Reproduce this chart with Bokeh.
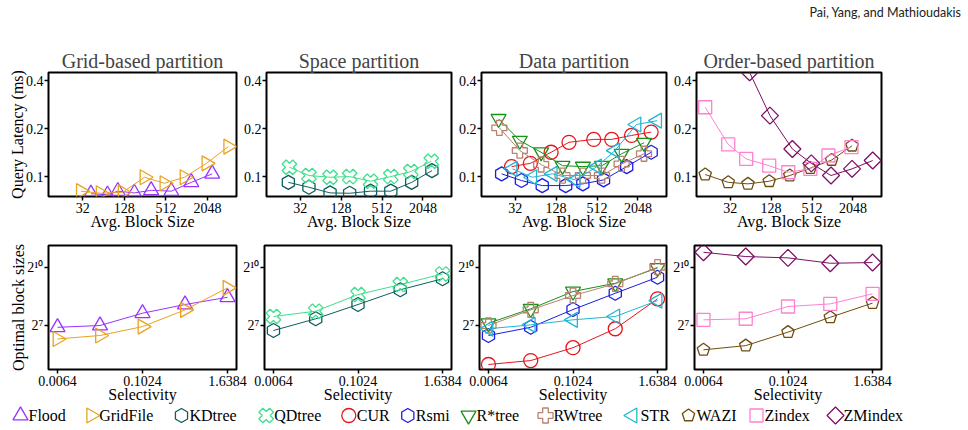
import math
from bokeh.plotting import figure
from bokeh.models import (ColumnDataSource, FixedTicker, NumeralTickFormatter,
                          CustomJSTickFormatter, Range1d, Label)
from bokeh.layouts import row, column
from bokeh.core.properties import value
from bokeh.embed import file_html
from bokeh.resources import INLINE

# ---------------- data ----------------
methods = ["Flood", "GridFile", "KDtree", "QDtree", "CUR", "Rsmi",
           "R*tree", "RWtree", "STR", "WAZI", "Zindex", "ZMindex"]

panel_titles = ["Grid-based partition", "Space partition", "Data partition", "Order-based partition"]
panel_methods = [["Flood", "GridFile"], ["KDtree", "QDtree"],
                 ["CUR", "Rsmi", "R*tree", "RWtree", "STR"], ["WAZI", "Zindex", "ZMindex"]]

# top row: average block size vs query latency (ms)
flood_bs = [42, 73, 103, 179, 313, 614, 1195, 2400]
flood_lat = [0.078, 0.077, 0.081, 0.079, 0.082, 0.081, 0.092, 0.104]
grid_bs = [30, 58, 121, 251, 488, 955, 1980, 4100]
grid_lat = [0.081, 0.0786, 0.0797, 0.099, 0.0908, 0.099, 0.121, 0.154]
kd_bs = [21.4, 43, 88, 171, 347, 690, 1400, 2780]
kd_lat = [0.092, 0.0857, 0.079, 0.0786, 0.081, 0.081, 0.092, 0.109]
qd_bs = [22.2, 43, 88, 171, 347, 690, 1360, 2720]
qd_lat = [0.1144, 0.1015, 0.099, 0.100, 0.0935, 0.100, 0.1075, 0.1247]
cur_bs = [28.3, 53.5, 108, 198, 458, 843, 1650, 3210]
cur_lat = [0.1155, 0.121, 0.142, 0.164, 0.171, 0.171, 0.181, 0.190]
rsmi_bs = [20.2, 39.5, 80, 177, 317, 639, 1400, 3210]
rsmi_lat = [0.104, 0.0944, 0.0878, 0.0878, 0.090, 0.0953, 0.1155, 0.142]
rstar_bs = [18.2, 37.4, 77, 159, 317, 605, 1180, 2520]
rstar_lat = [0.230, 0.168, 0.142, 0.117, 0.1155, 0.117, 0.139, 0.163]
rw_bs = [18.7, 37.4, 77, 159, 317, 605, 1180, 2520]
rw_lat = [0.202, 0.1455, 0.119, 0.1015, 0.1015, 0.1015, 0.120, 0.139]
str_bs = [29.2, 57, 114, 247, 512, 942, 1950, 3930]
str_lat = [0.1118, 0.099, 0.104, 0.0953, 0.1155, 0.1455, 0.212, 0.224]
wazi_bs = [13.7, 29.9, 58.4, 120, 241, 484, 996, 1990]
wazi_lat = [0.103, 0.092, 0.090, 0.0935, 0.1015, 0.113, 0.127, 0.156]
zindex_bs = [13.7, 29.9, 55, 120, 229, 484, 893, 1950]
zindex_lat = [0.272, 0.159, 0.129, 0.117, 0.1064, 0.1118, 0.1355, 0.153]
zm_bs = [30, 61.8, 123, 263, 500, 975, 1990, 4010]
zm_lat = [0.80, 0.45, 0.241, 0.149, 0.121, 0.1015, 0.1118, 0.126]

# bottom row: selectivity vs optimal block size
selectivity = [0.0064, 0.0256, 0.1024, 0.4096, 1.6384]
flood_opt = [120, 128, 199, 272, 352]
grid_opt = [79, 89.5, 123, 224, 494]
kd_opt = [107, 163, 272, 461, 685]
qd_opt = [177, 214, 388, 556, 816]
cur_opt = [31.6, 36.4, 57.7, 114, 333]
rsmi_opt = [89.5, 120, 227, 407, 724]
rstar_opt = [139, 233, 433, 584, 1010]
rw_opt = [128, 224, 375, 572, 1038]
str_opt = [114, 131, 157, 177, 313]
wazi_opt = [53.5, 62.2, 101, 172, 286]
zindex_opt = [157, 163, 253, 278, 399]
zm_opt = [1770, 1520, 1450, 1195, 1225]

top_ticks_x = [32, 128, 512, 2048]
top_ticks_y = [0.1, 0.2, 0.4]
bottom_ticks_x = [0.0064, 0.1024, 1.6384]
bottom_ticks_y = [128, 1024]

TOP = {"Flood": (flood_bs, flood_lat), "GridFile": (grid_bs, grid_lat),
       "KDtree": (kd_bs, kd_lat), "QDtree": (qd_bs, qd_lat),
       "CUR": (cur_bs, cur_lat), "Rsmi": (rsmi_bs, rsmi_lat),
       "R*tree": (rstar_bs, rstar_lat), "RWtree": (rw_bs, rw_lat),
       "STR": (str_bs, str_lat), "WAZI": (wazi_bs, wazi_lat),
       "Zindex": (zindex_bs, zindex_lat), "ZMindex": (zm_bs, zm_lat)}
BOTTOM = {"Flood": flood_opt, "GridFile": grid_opt, "KDtree": kd_opt, "QDtree": qd_opt,
          "CUR": cur_opt, "Rsmi": rsmi_opt, "R*tree": rstar_opt, "RWtree": rw_opt,
          "STR": str_opt, "WAZI": wazi_opt, "Zindex": zindex_opt, "ZMindex": zm_opt}

# ---------------- styles ----------------
SERIF = "Liberation Serif"
STYLE = {
    "Flood": dict(color="#9933ff", marker="triangle", angle=0.0, size=15),
    "GridFile": dict(color="#eaa221", marker="triangle", angle=-math.pi / 2, size=15),
    "KDtree": dict(color="#0d5e5e", marker="hex", angle=math.pi / 2, size=14),
    "QDtree": dict(color="#3de08c", marker="plus", angle=math.pi / 4, size=15),
    "CUR": dict(color="#e8141c", marker="circle", angle=0.0, size=14),
    "Rsmi": dict(color="#1c1ce6", marker="hex", angle=math.pi / 2, size=14),
    "R*tree": dict(color="#179117", marker="inverted_triangle", angle=0.0, size=15),
    "RWtree": dict(color="#b9826e", marker="plus", angle=0.0, size=15),
    "STR": dict(color="#22b5d6", marker="triangle", angle=math.pi / 2, size=15),
    "WAZI": dict(color="#6e4d0f", marker="pentagon", angle=0.0, size=13),
    "Zindex": dict(color="#ff80d0", marker="square", angle=0.0, size=13),
    "ZMindex": dict(color="#7d0f64", marker="square", angle=math.pi / 4, size=12),
}


def add_marker(p, src, st):
    if st["marker"] == "pentagon":
        p.ngon(x="x", y="y", source=src, radius=st["size"] / 2, radius_units="screen",
               n=5, angle=st["angle"], fill_color=None, line_color=st["color"], line_width=1.3)
    else:
        p.scatter(x="x", y="y", source=src, marker=st["marker"], size=st["size"],
                  angle=st["angle"], fill_color=None, line_color=st["color"], line_width=1.3)


def add_series(p, xs, ys, name):
    st = STYLE[name]
    src = ColumnDataSource(dict(x=xs, y=ys))
    p.line(x="x", y="y", source=src, line_color=st["color"], line_width=1)
    add_marker(p, src, st)


def style_axes(p):
    p.outline_line_color = "black"
    p.outline_line_width = 2
    p.outline_line_alpha = 1
    p.grid.visible = False
    for ax in p.axis:
        ax.axis_line_color = None
        ax.major_tick_out = 4
        ax.major_tick_in = 0
        ax.minor_tick_out = 0
        ax.minor_tick_in = 0
        ax.major_tick_line_width = 1.5
        ax.major_label_text_font = SERIF
        ax.major_label_text_font_size = "14px"
        ax.major_label_text_color = "black"
        ax.axis_label_text_font = SERIF
        ax.axis_label_text_font_size = "16px"
        ax.axis_label_text_font_style = "normal"
        ax.axis_label_text_color = "black"
        ax.axis_label_standoff = -3
    p.xaxis.major_label_standoff = 2
    p.yaxis.major_label_standoff = 1


def make_fig(i, top_row):
    left = 48 if i == 0 else 23
    width = left + 188 + 14
    kw = dict(width=width, x_axis_type="log", y_axis_type="log",
              output_backend="svg", toolbar_location=None,
              min_border_left=left, min_border_right=14,
              border_fill_color=None, background_fill_color="white")
    if i > 0:
        kw["margin"] = (0, 0, 0, -10)
    if top_row:
        kw.update(height=209, min_border_top=44, min_border_bottom=41,
                  x_range=Range1d(10.2, 5400), y_range=Range1d(0.075, 0.449),
                  title=panel_titles[i])
    else:
        kw.update(height=173, min_border_top=8, min_border_bottom=41,
                  x_range=Range1d(0.00477, 2.197), y_range=Range1d(26.4, 2260))
    p = figure(**kw)
    style_axes(p)
    if top_row:
        p.title.text_font = SERIF
        p.title.text_font_size = "20px"
        p.title.text_font_style = "normal"
        p.title.align = "center"
        p.title.standoff = 2
        p.xaxis.ticker = FixedTicker(ticks=top_ticks_x, minor_ticks=[])
        p.yaxis.ticker = FixedTicker(ticks=top_ticks_y, minor_ticks=[])
        p.xaxis.formatter = NumeralTickFormatter(format="0")
        p.yaxis.formatter = NumeralTickFormatter(format="0.0")
        p.xaxis.axis_label = "Avg. Block Size"
        if i == 0:
            p.yaxis.axis_label = "Query Latency (ms)"
        for m in panel_methods[i]:
            add_series(p, TOP[m][0], TOP[m][1], m)
    else:
        p.xaxis.ticker = FixedTicker(ticks=bottom_ticks_x, minor_ticks=[])
        p.yaxis.ticker = FixedTicker(ticks=bottom_ticks_y, minor_ticks=[])
        p.xaxis.formatter = NumeralTickFormatter(format="0.0000")
        p.yaxis.formatter = CustomJSTickFormatter(code="""
            const sup = {7: '\u2077', 10: '\u00b9\u2070'};
            const e = Math.round(Math.log2(tick));
            return '2' + (sup[e] !== undefined ? sup[e] : String(e));
        """)
        p.xaxis.axis_label = "Selectivity"
        if i == 0:
            p.yaxis.axis_label = "Optimal block sizes"
        for m in panel_methods[i]:
            add_series(p, selectivity, BOTTOM[m], m)
    return p


top_figs = [make_fig(i, True) for i in range(4)]
bottom_figs = [make_fig(i, False) for i in range(4)]

# ---------------- header ----------------
header = figure(width=968, height=28, output_backend="svg", toolbar_location=None,
                x_axis_location=None, y_axis_location=None, min_border=0,
                x_range=Range1d(0, 1), y_range=Range1d(0, 1),
                outline_line_color=None, border_fill_color=None, background_fill_color=None)
header.grid.visible = False
header.add_layout(Label(x=961, y=16, x_units="screen", y_units="screen",
                        text="Pai, Yang, and Mathioudakis", text_align="right",
                        text_baseline="middle", text_font="Lato", text_font_size="12.5px",
                        text_color="#222222"))

# ---------------- legend ----------------
legend_start = 20
legend_pitch = [70.7, 90.3, 84.7, 82.6, 59, 60.7, 77, 87, 56, 68, 79]
legend_x = [legend_start]
for d in legend_pitch:
    legend_x.append(legend_x[-1] + d)

leg = figure(width=968, height=30, output_backend="svg", toolbar_location=None,
             x_axis_location=None, y_axis_location=None, min_border=0,
             x_range=Range1d(0, 968), y_range=Range1d(0, 30),
             outline_line_color=None, border_fill_color=None, background_fill_color=None,
             margin=(-10, 0, 0, 0))
leg.grid.visible = False
for m, lx in zip(methods, legend_x):
    st = STYLE[m]
    src = ColumnDataSource(dict(x=[lx], y=[15]))
    add_marker(leg, src, st)
    leg.text(x=[lx + 8], y=[15], text=[m], text_font=value(SERIF), text_font_size="16px",
             text_baseline="middle", text_align="left", text_color="black")

layout = column(header, row(*top_figs), row(*bottom_figs), leg)

with open("out.html", "w", encoding="utf-8") as f:
    f.write(file_html(layout, INLINE))
